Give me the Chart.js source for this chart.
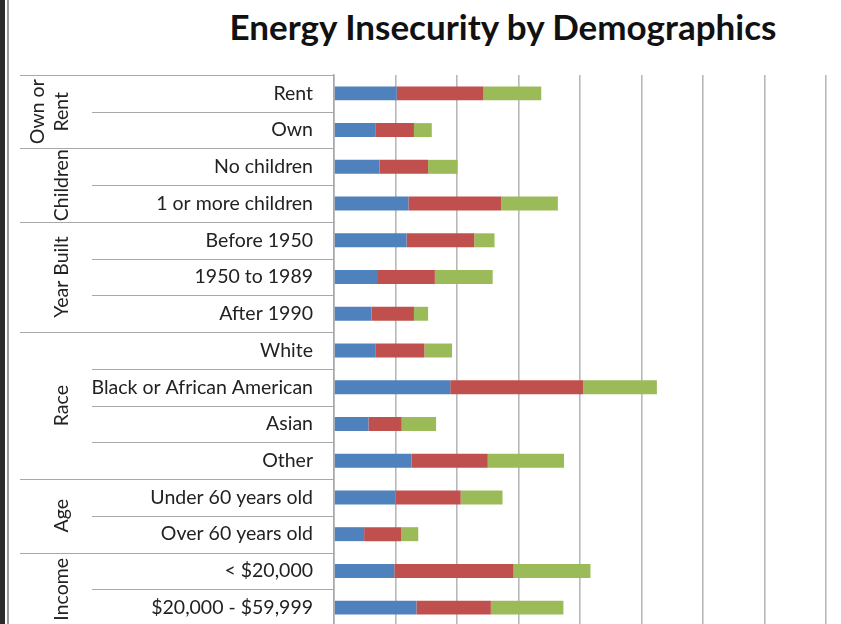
<!DOCTYPE html>
<html>
<head>
<meta charset="utf-8">
<title>Energy Insecurity by Demographics</title>
<script src="https://cdn.jsdelivr.net/npm/chart.js@4.4.0/dist/chart.umd.min.js"></script>
<style>
  html, body { margin: 0; padding: 0; background: #fff; overflow: hidden; }
  #wrap { position: relative; width: 841px; height: 626px; }
  #frame-dark { position: absolute; left: 0; top: 0; width: 5px; height: 626px; background: #2b2b2b; }
  #frame-line { position: absolute; left: 7px; top: 0; width: 2px; height: 626px; background: #9a9a9a; }
  #title {
    position: absolute; top: 5px; left: 503px; transform: translateX(-50%);
    font-family: Lato, "Liberation Sans", sans-serif; font-weight: bold;
    font-size: 30px; color: #111; white-space: nowrap;
  }
  #chart { position: absolute; left: 0; top: 0; }
</style>
</head>
<body>
<div id="wrap">
  <div id="title">Energy Insecurity by Demographics</div>
  <canvas id="chart" width="841" height="626"></canvas>
  <div id="frame-dark"></div>
  <div id="frame-line"></div>
</div>
<script>
  // Data (one gridline = 5 units)
  // --------------------------------------------------
  var categories = ["Rent", "Own", "No children", "1 or more children",
    "Before 1950", "1950 to 1989", "After 1990",
    "White", "Black or African American", "Asian", "Other",
    "Under 60 years old", "Over 60 years old",
    "< $20,000", "$20,000 - $59,999"];

  var groupNames = [["Own or", "Rent"], ["Children"], ["Year Built"], ["Race"], ["Age"], ["Income"]];
  var groupSizes = [2, 2, 3, 4, 2, 2];

  var seriesNames = ["Series 1", "Series 2", "Series 3"];
  var blueValues  = [5.1, 3.4, 3.7, 6.05, 5.9, 3.5, 3.05, 3.4, 9.45, 2.8, 6.3, 5.0, 2.45, 4.9, 6.7];
  var redValues   = [7.05, 3.1, 3.95, 7.55, 5.5, 4.7, 3.45, 3.95, 10.8, 2.7, 6.2, 5.3, 3.0, 9.7, 6.05];
  var greenValues = [4.7, 1.45, 2.4, 4.6, 1.65, 4.7, 1.15, 2.25, 6.0, 2.8, 6.2, 3.4, 1.4, 6.25, 5.9];

  var axisMax = 40;
  var axisStep = 5;

  var labelFont = 'Lato, "Liberation Sans", sans-serif';
  var labelSize = 19.5;

  // Title size - fit to width
  // --------------------------------------------------
  (function () {
    var t = document.getElementById('title');
    var c = document.createElement('canvas').getContext('2d');
    c.font = 'bold 30px Lato';
    var w = c.measureText(t.textContent).width;
    t.style.fontSize = (30 * 550 / w).toFixed(1) + 'px';
  })();

  // Group rows + labels - plugin
  // --------------------------------------------------
  var groupPlugin = {
    id: 'groupRows',
    afterDraw: function (chart) {
      var ctx = chart.ctx;
      var y = chart.scales.y;
      var left = chart.chartArea.left;
      var step = y.getPixelForValue(1) - y.getPixelForValue(0);
      var starts = [];
      var s = 0;
      groupSizes.forEach(function (n) { starts.push(s); s += n; });

      ctx.save();
      ctx.strokeStyle = '#a8a8a8';
      ctx.lineWidth = 1.2;
      for (var i = 0; i < categories.length; i++) {
        var yb = Math.round(y.getPixelForValue(i) - step / 2) + 0.5;
        var x0 = starts.indexOf(i) >= 0 ? 20 : 92;
        ctx.beginPath();
        ctx.moveTo(x0, yb);
        ctx.lineTo(left, yb);
        ctx.stroke();
      }

      ctx.fillStyle = '#222';
      ctx.font = labelSize + 'px ' + labelFont;
      ctx.textAlign = 'center';
      ctx.textBaseline = 'middle';
      groupNames.forEach(function (lines, g) {
        var top = y.getPixelForValue(starts[g]) - step / 2;
        var bottom = y.getPixelForValue(starts[g] + groupSizes[g] - 1) + step / 2;
        var cy = (top + bottom) / 2;
        ctx.save();
        ctx.translate(62, cy);
        ctx.rotate(-Math.PI / 2);
        lines.forEach(function (txt, k) {
          var off = (k - (lines.length - 1)) * 24;
          ctx.fillText(txt, 0, off);
        });
        ctx.restore();
      });
      ctx.restore();
    }
  };

  // Chart - Start
  // --------------------------------------------------
  var ctxChart = document.getElementById('chart').getContext('2d');
  var energyChart = new Chart(ctxChart, {
    type: 'bar',
    data: {
      labels: categories,
      datasets: [
        { label: seriesNames[0], data: blueValues,  backgroundColor: '#4F81BD' },
        { label: seriesNames[1], data: redValues,   backgroundColor: '#C0504D' },
        { label: seriesNames[2], data: greenValues, backgroundColor: '#9BBB59' }
      ]
    },
    plugins: [groupPlugin],
    options: {
      indexAxis: 'y',
      responsive: false,
      animation: false,
      events: [],
      datasets: {
        bar: { barPercentage: 0.38, categoryPercentage: 1, borderWidth: 0 }
      },
      layout: { padding: { top: 75, right: 15, bottom: 0, left: 0 } },
      plugins: {
        legend: { display: false },
        title: { display: false },
        tooltip: { enabled: false }
      },
      scales: {
        x: {
          stacked: true,
          min: 0,
          max: axisMax,
          ticks: { display: false, stepSize: axisStep },
          grid: { color: '#b8b8b8', lineWidth: 1.6, drawTicks: false },
          border: { display: false },
          afterFit: function (scale) {
            scale.height = 0;
            scale.paddingLeft = 0;
            scale.paddingRight = 0;
          }
        },
        y: {
          stacked: true,
          ticks: {
            color: '#222',
            padding: 21,
            font: { family: labelFont, size: labelSize }
          },
          grid: { display: false, drawTicks: false },
          border: { display: true, color: '#a8a8a8', width: 1.5 },
          afterFit: function (scale) {
            scale.width = 334;
            scale.paddingTop = 0;
            scale.paddingBottom = 0;
          }
        }
      }
    }
  });
  // Chart - End
  // --------------------------------------------------
</script>
</body>
</html>
